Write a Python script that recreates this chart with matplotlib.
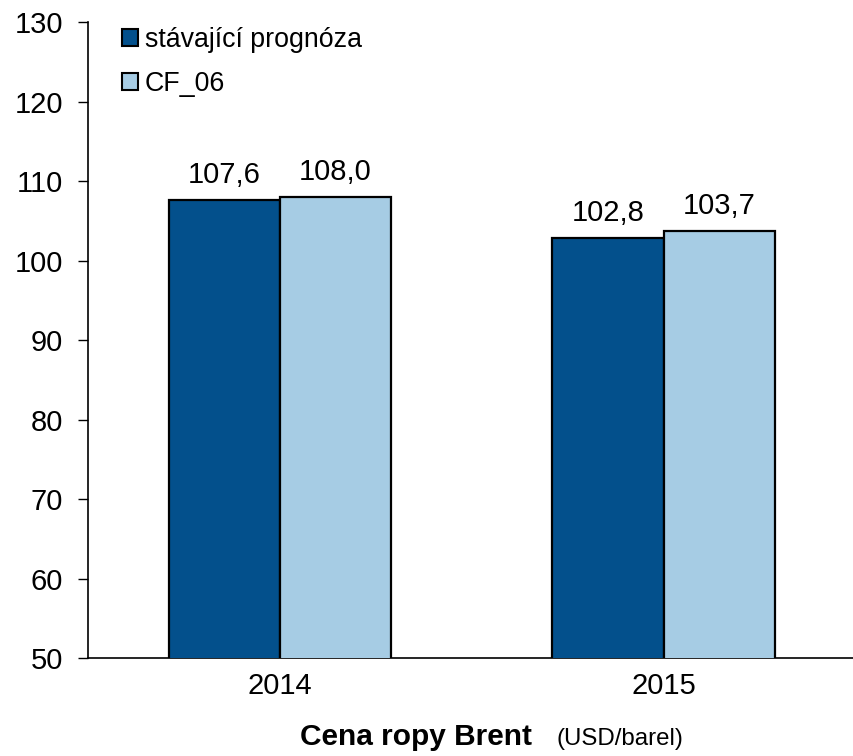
import matplotlib
matplotlib.use("Agg")
import matplotlib.pyplot as plt
import numpy as np

plt.rcParams['font.family'] = ['Liberation Sans', 'DejaVu Sans']

categories = ["2014", "2015"]
series_names = ["stávající prognóza", "CF_06"]
current_forecast = [107.6, 102.8]
cf_06 = [108.0, 103.7]
colors = ["#03508C", "#A6CCE4"]

fig = plt.figure(figsize=(8.54, 7.56), dpi=100)
ax = fig.add_axes([0.103, 0.1296, 0.899, 0.8413])

x = np.arange(len(categories))
w = 0.29
bars1 = ax.bar(x - w / 2, current_forecast, w, color=colors[0], edgecolor="black",
               linewidth=1.6, label=series_names[0], zorder=3)
bars2 = ax.bar(x + w / 2, cf_06, w, color=colors[1], edgecolor="black",
               linewidth=1.6, label=series_names[1], zorder=3)

for bars in (bars1, bars2):
    for b in bars:
        v = b.get_height()
        ax.annotate(f"{v:.1f}".replace(".", ","), (b.get_x() + b.get_width() / 2, v),
                    xytext=(0, 8), textcoords="offset points", ha="center", va="bottom",
                    fontsize=21)

ax.set_ylim(50, 130)
ax.set_xlim(-0.5, 1.5)
ax.set_yticks(range(50, 131, 10))
ax.set_xticks(x)
ax.set_xticklabels(categories)
ax.tick_params(axis="y", length=7, width=1, labelsize=21, pad=11)
ax.tick_params(axis="x", length=0, labelsize=21, pad=10)
ax.spines["top"].set_visible(False)
ax.spines["right"].set_visible(False)
ax.spines["left"].set_linewidth(1.2)
ax.spines["bottom"].set_linewidth(1.2)

leg = ax.legend(loc="upper left", bbox_to_anchor=(0.044, 0.992), frameon=False,
                fontsize=19.3, handlelength=0.6, handleheight=0.6, handletextpad=0.25,
                labelspacing=0.68, borderaxespad=0, borderpad=0)
for h in leg.legend_handles:
    h.set_linewidth(1.5)

fig.text(0.623, 0.0146, "Cena ropy Brent", fontsize=21.5, fontweight="bold",
         ha="right", va="baseline")
fig.text(0.652, 0.0146, "(USD/barel)", fontsize=17.3, ha="left", va="baseline")

fig.savefig("out.png", dpi=100)
